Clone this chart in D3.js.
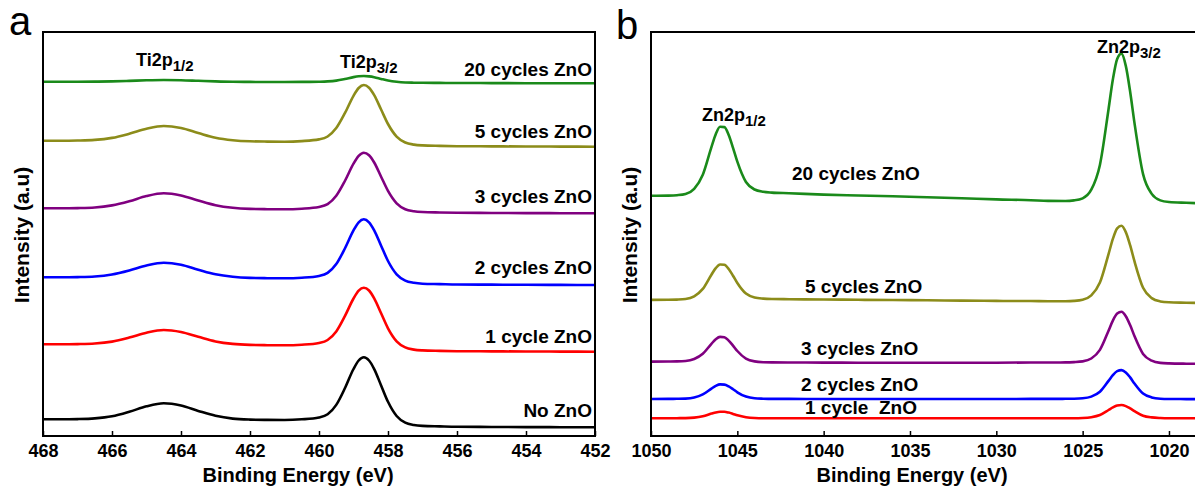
<!DOCTYPE html>
<html>
<head>
<meta charset="utf-8">
<script src="https://cdn.jsdelivr.net/npm/d3@7"></script>
<style>
  body { margin: 0; background: #fff; }
  svg { display: block; font-family: Arial, 'Liberation Sans', sans-serif; }
  .tick text { font-size: 18px; font-weight: bold; fill: #000; }
  .tick line { stroke: #000; stroke-width: 1.5; }
  .lbl { font-size: 19px; font-weight: bold; white-space: pre; }
</style>
</head>
<body>
<svg id="chart" width="1195" height="490"></svg>
<script>
// --- panel a : Ti 2p
const tiEnergy = [468, 467.5, 467, 466.5, 466, 465.5, 465, 464.5, 464, 463.5, 463, 462.5, 462, 461.5, 461, 460.5, 460, 459.75, 459.5, 459.25, 459, 458.85, 458.7, 458.55, 458.4, 458.2, 458, 457.75, 457.5, 457.25, 457, 456.5, 456, 455, 454, 453, 452]
const tiNoZnO = [16.7, 16.7, 16.9, 17.6, 19.7, 24.2, 29.7, 32.7, 30.5, 25.1, 20.2, 17.4, 16.4, 16.1, 16.0, 16.7, 18.6, 21.7, 31.1, 47.7, 67.0, 75.5, 78.7, 75.5, 66.9, 50.6, 34.2, 20.0, 13.3, 11.0, 10.1, 9.6, 9.2, 9.05, 8.9, 8.8, 8.7]
const ti1Cycle = [91.7, 91.7, 91.9, 92.5, 94.4, 98.4, 103.3, 106.0, 104.0, 99.2, 94.6, 92.1, 91.1, 90.8, 90.7, 91.3, 93.1, 96.0, 104.5, 119.8, 137.5, 145.4, 148.3, 145.5, 137.6, 122.7, 107.7, 94.7, 88.6, 86.4, 85.6, 85.1, 84.8, 84.65, 84.5, 84.4, 84.3]
const ti2Cycles = [158.7, 158.7, 158.9, 159.5, 161.5, 165.5, 170.5, 173.3, 171.3, 166.3, 161.7, 159.2, 158.1, 157.8, 157.7, 158.3, 160.1, 163.1, 171.9, 187.5, 205.6, 213.7, 216.7, 213.7, 205.7, 190.3, 175.0, 161.7, 155.4, 153.2, 152.3, 151.9, 151.5, 151.35, 151.2, 151.1, 151.0]
const ti3Cycles = [227.7, 227.7, 227.9, 228.5, 230.6, 234.7, 239.9, 242.7, 240.6, 235.5, 230.8, 228.2, 227.1, 226.8, 226.7, 227.3, 229.0, 231.8, 240.2, 255.0, 272.4, 280.2, 283.3, 280.8, 273.5, 259.3, 245.1, 232.7, 226.8, 224.8, 224.0, 223.5, 223.2, 223.05, 222.9, 222.8, 222.7]
const ti5Cycles = [295.3, 295.3, 295.5, 296.1, 298.1, 302.2, 307.2, 310.0, 308.0, 303.0, 298.3, 295.8, 294.7, 294.4, 294.3, 294.9, 296.6, 299.5, 307.9, 322.8, 340.2, 348.0, 351.0, 348.3, 340.9, 326.5, 312.0, 299.4, 293.5, 291.4, 290.6, 290.1, 289.8, 289.65, 289.5, 289.4, 289.3]
const ti20Cycles = [354.3, 354.3, 354.3, 354.4, 354.6, 355.1, 355.7, 356.0, 355.8, 355.2, 354.6, 354.2, 354.1, 354.0, 354.0, 354.1, 354.3, 354.6, 355.4, 357.0, 358.9, 359.7, 360.0, 359.6, 358.8, 357.1, 355.5, 354.2, 353.5, 353.3, 353.2, 353.1, 353.0, 352.9, 352.8, 352.75, 352.7]
const tiTicks = [468, 466, 464, 462, 460, 458, 456, 454, 452]

// --- panel b : Zn 2p
const znEnergy = [1050, 1049, 1048.5, 1048, 1047.5, 1047, 1046.5, 1046.25, 1046, 1045.75, 1045.5, 1045.25, 1045, 1044.5, 1044, 1043.5, 1043, 1042, 1040, 1038, 1036, 1034, 1032, 1030, 1028, 1027, 1026, 1025.5, 1025, 1024.5, 1024, 1023.5, 1023.25, 1023, 1022.75, 1022.5, 1022.25, 1022, 1021.5, 1021, 1020.5, 1020, 1019, 1018]
const zn1Cycle = [17.7, 17.7, 17.8, 17.9, 18.4, 19.8, 22.4, 23.6, 24.2, 24.2, 23.4, 22.1, 20.7, 18.8, 18.0, 17.8, 17.8, 17.7, 17.7, 17.7, 17.7, 17.7, 17.7, 17.7, 17.7, 17.7, 17.8, 17.8, 18.0, 18.8, 21.0, 26.0, 28.6, 30.5, 31.0, 29.9, 27.6, 24.9, 20.3, 18.6, 18.0, 17.8, 17.8, 17.7]
const zn2Cycles = [37.0, 37.1, 37.2, 37.4, 38.5, 41.6, 47.4, 50.1, 51.6, 51.4, 49.6, 46.8, 43.7, 39.4, 37.7, 37.3, 37.1, 37.1, 37.0, 37.0, 37.0, 37.0, 37.0, 37.0, 37.1, 37.1, 37.2, 37.3, 37.7, 39.4, 44.2, 55.1, 60.9, 64.9, 65.9, 63.6, 58.6, 52.5, 42.4, 38.6, 37.3, 37.0, 36.9, 36.8]
const zn3Cycles = [74.4, 74.5, 74.6, 75.0, 77.0, 82.2, 92.2, 96.7, 99.1, 98.7, 95.4, 90.4, 85.0, 77.4, 74.6, 73.8, 73.6, 73.5, 73.4, 73.3, 73.3, 73.3, 73.3, 73.3, 73.5, 73.5, 73.6, 73.9, 74.6, 77.5, 86.1, 105.3, 115.4, 122.4, 124.2, 119.8, 110.9, 100.0, 82.1, 75.3, 73.1, 72.6, 72.3, 72.2]
const zn5Cycles = [136.1, 136.2, 136.4, 137.0, 139.7, 147.1, 161.3, 167.8, 171.5, 171.3, 167.0, 160.3, 153.0, 142.4, 138.5, 137.4, 137.0, 136.8, 136.5, 136.2, 136.0, 135.7, 135.4, 135.1, 135.0, 134.7, 134.8, 135.1, 136.2, 140.6, 153.4, 181.9, 197.1, 207.7, 210.3, 203.9, 190.8, 174.8, 148.2, 137.9, 134.6, 133.7, 133.3, 132.9]
const zn20Cycles = [240.2, 240.4, 240.8, 242.0, 247.2, 261.3, 288.9, 301.8, 309.2, 308.9, 301.0, 288.2, 274.3, 254.0, 246.5, 244.2, 243.4, 242.8, 241.4, 240.5, 239.7, 238.8, 237.8, 236.6, 235.8, 235.1, 235.0, 235.6, 237.7, 246.3, 271.1, 326.8, 356.5, 377.1, 382.4, 370.1, 344.5, 313.4, 261.9, 242.1, 235.6, 234.0, 233.2, 232.6]
const znTicks = [1050, 1045, 1040, 1035, 1030, 1025, 1020]

const tiNames = ['No ZnO', '1 cycle ZnO', '2 cycles ZnO', '3 cycles ZnO', '5 cycles ZnO', '20 cycles ZnO']
const znNames = ['1 cycle  ZnO', '2 cycles ZnO', '3 cycles ZnO', '5 cycles ZnO', '20 cycles ZnO']
const colors = {
  none: '#000000', c1: '#ff0000', c2: '#0000ff', c3: '#800080', c5: '#8c8c1a', c20: '#1a8a1a'
}

const svg = d3.select('#chart')

const panels = [
  {
    letter: 'a', lx: 9, ly: 35, left: 43, right: 595, top: 32, bottom: 436, domain: [468, 452], ticks: tiTicks,
    titleX: 298, energy: tiEnergy,
    series: [
      { name: tiNames[0], values: tiNoZnO, color: colors.none, lx: 592, ly: 417, anchor: 'end' },
      { name: tiNames[1], values: ti1Cycle, color: colors.c1, lx: 592, ly: 343, anchor: 'end' },
      { name: tiNames[2], values: ti2Cycles, color: colors.c2, lx: 592, ly: 274, anchor: 'end' },
      { name: tiNames[3], values: ti3Cycles, color: colors.c3, lx: 592, ly: 203, anchor: 'end' },
      { name: tiNames[4], values: ti5Cycles, color: colors.c5, lx: 592, ly: 138, anchor: 'end' },
      { name: tiNames[5], values: ti20Cycles, color: colors.c20, lx: 592, ly: 76, anchor: 'end' },
    ],
    peaks: [
      { main: 'Ti2p', sub: '1/2', x: 136, y: 66 },
      { main: 'Ti2p', sub: '3/2', x: 340, y: 68 },
    ],
  },
  {
    letter: 'b', lx: 616, ly: 39, left: 651, right: 1203.5, top: 32, bottom: 436, domain: [1050, 1018], ticks: znTicks,
    titleX: 912, energy: znEnergy,
    series: [
      { name: znNames[0], values: zn1Cycle, color: colors.c1, lx: 805, ly: 414, anchor: 'start' },
      { name: znNames[1], values: zn2Cycles, color: colors.c2, lx: 801, ly: 391, anchor: 'start' },
      { name: znNames[2], values: zn3Cycles, color: colors.c3, lx: 801, ly: 355, anchor: 'start' },
      { name: znNames[3], values: zn5Cycles, color: colors.c5, lx: 805, ly: 293, anchor: 'start' },
      { name: znNames[4], values: zn20Cycles, color: colors.c20, lx: 792, ly: 180, anchor: 'start' },
    ],
    peaks: [
      { main: 'Zn2p', sub: '1/2', x: 702, y: 121 },
      { main: 'Zn2p', sub: '3/2', x: 1097, y: 53 },
    ],
  },
]

panels.forEach(p => {
  const x = d3.scaleLinear().domain(p.domain).range([p.left, p.right])
  const y = d3.scaleLinear().domain([0, 404]).range([p.bottom, p.top])
  const g = svg.append('g')

  // bottom axis, ticks pointing inward
  g.append('g')
    .attr('transform', `translate(0,${p.bottom})`)
    .call(d3.axisBottom(x).tickValues(p.ticks).tickSize(-5).tickSizeOuter(0).tickPadding(8).tickFormat(d3.format('d')))
    .call(sel => sel.select('.domain').remove())

  const line = d3.line()
    .x(d => x(d[0]))
    .y(d => y(d[1]))
    .curve(d3.curveMonotoneX)

  p.series.forEach(s => {
    g.append('path')
      .datum(d3.zip(p.energy, s.values))
      .attr('fill', 'none')
      .attr('stroke', s.color)
      .attr('stroke-width', 2.6)
      .attr('stroke-linejoin', 'round')
      .attr('d', line)
    g.append('text').attr('class', 'lbl')
      .attr('x', s.lx).attr('y', s.ly)
      .attr('text-anchor', s.anchor)
      .text(s.name)
  })

  g.append('rect')
    .attr('x', p.left).attr('y', p.top)
    .attr('width', p.right - p.left).attr('height', p.bottom - p.top)
    .attr('fill', 'none').attr('stroke', '#000').attr('stroke-width', 2)

  p.peaks.forEach(pk => {
    const t = g.append('text').attr('x', pk.x).attr('y', pk.y)
      .style('font-size', '18px').style('font-weight', 'bold')
    t.append('tspan').text(pk.main)
    t.append('tspan').attr('dy', 5).style('font-size', '15px').text(pk.sub)
  })

  g.append('text')
    .attr('x', p.titleX)
    .attr('y', 482)
    .attr('text-anchor', 'middle')
    .style('font-size', '20px').style('font-weight', 'bold')
    .text('Binding Energy (eV)')

  g.append('text')
    .attr('transform', `translate(${p.left - 14},${(p.top + p.bottom) / 2 + 1}) rotate(-90)`)
    .attr('text-anchor', 'middle')
    .style('font-size', '21px').style('font-weight', 'bold')
    .text('Intensity (a.u)')

  g.append('text')
    .attr('x', p.lx).attr('y', p.ly)
    .style('font-size', '40px')
    .text(p.letter)
})
</script>
</body>
</html>
